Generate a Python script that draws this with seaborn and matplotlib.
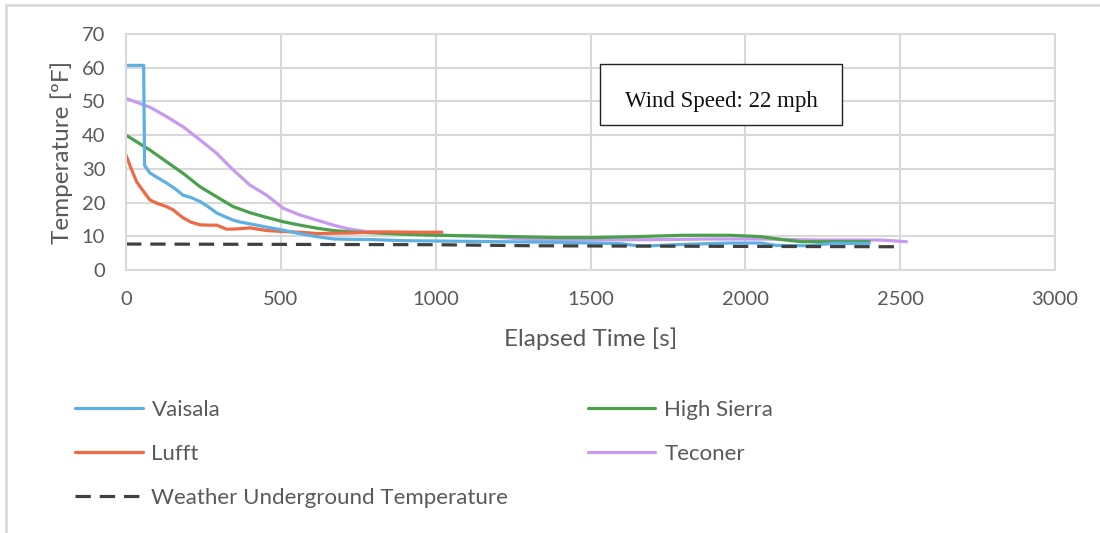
import numpy as np
import pandas as pd
import matplotlib
matplotlib.use("Agg")
import matplotlib.pyplot as plt
import seaborn as sns
from matplotlib.patches import Rectangle

# ---- data ----
vaisala_t = [0, 57, 60, 77, 100, 131, 160, 184, 210, 239, 265, 293, 320, 346, 370, 400, 450, 508,
             560, 616, 670, 723, 800, 900, 1000, 1200, 1400, 1600, 1650, 1700, 1800, 1950, 2050,
             2100, 2200, 2280, 2400]
vaisala_v = [60.7, 60.7, 31.0, 28.8, 27.5, 25.8, 24.0, 22.2, 21.5, 20.3, 18.8, 16.9, 15.8, 14.8,
             14.2, 13.7, 12.8, 11.8, 10.8, 9.9, 9.2, 9.1, 9.0, 8.7, 8.6, 8.4, 8.2, 7.8, 7.2, 7.2,
             7.6, 8.0, 8.0, 7.3, 7.2, 7.9, 7.9]

lufft_t = [0, 15, 34, 55, 77, 100, 131, 153, 170, 184, 210, 239, 265, 293, 325, 360, 400, 454,
           508, 562, 620, 670, 740, 780, 850, 930, 1020]
lufft_v = [34.1, 30.5, 26.2, 23.5, 20.8, 19.8, 18.8, 17.8, 16.5, 15.5, 14.2, 13.4, 13.3, 13.3,
           12.1, 12.2, 12.5, 11.7, 11.4, 11.2, 10.8, 10.9, 11.0, 11.2, 11.3, 11.2, 11.2]

sierra_t = [0, 77, 131, 184, 239, 293, 346, 400, 454, 508, 562, 616, 670, 723, 800, 900, 1000,
            1200, 1400, 1500, 1650, 1800, 1950, 2050, 2120, 2180, 2400]
sierra_v = [40.0, 35.6, 32.1, 28.7, 24.7, 21.7, 18.8, 17.0, 15.6, 14.3, 13.3, 12.4, 11.7, 11.3,
            11.0, 10.6, 10.3, 10.0, 9.6, 9.6, 9.9, 10.3, 10.3, 9.9, 9.0, 8.4, 8.4]

teconer_t = [0, 77, 131, 184, 239, 293, 346, 400, 454, 508, 562, 616, 670, 723, 777, 885, 993,
             1100, 1208, 1300, 1430, 1700, 1900, 2050, 2230, 2435, 2520]
teconer_v = [50.9, 48.3, 45.5, 42.5, 38.6, 34.6, 29.7, 25.2, 22.2, 18.3, 16.3, 14.8, 13.3, 12.1,
             11.4, 10.9, 10.4, 10.1, 9.7, 9.1, 8.9, 9.0, 9.2, 9.2, 8.9, 8.9, 8.4]

wu_t = [0, 500, 1000, 1300, 1600, 2000, 2480]
wu_v = [7.7, 7.6, 7.5, 7.2, 7.1, 7.0, 6.9]

series_names = ["Vaisala", "Lufft", "High Sierra", "Teconer", "Weather Underground Temperature"]
x_ticks = [0, 500, 1000, 1500, 2000, 2500, 3000]
y_ticks = [0, 10, 20, 30, 40, 50, 60, 70]
x_label = "Elapsed Time [s]"
y_label = "Temperature [ºF]"
note_text = "Wind Speed: 22 mph"

colors = {
    "Vaisala": "#5fb0e2",
    "Lufft": "#ee6a45",
    "High Sierra": "#4ba14b",
    "Teconer": "#c79af0",
    "Weather Underground Temperature": "#404040",
}

sns.set_theme(style="white")
plt.rcParams["font.family"] = ["Lato", "DejaVu Sans"]

fig = plt.figure(figsize=(11, 5.33), dpi=100)
ax = fig.add_axes([126 / 1100, 1 - 270 / 533, (1055 - 126) / 1100, (270 - 34) / 533])

data = {
    "Vaisala": (vaisala_t, vaisala_v),
    "Lufft": (lufft_t, lufft_v),
    "High Sierra": (sierra_t, sierra_v),
    "Teconer": (teconer_t, teconer_v),
    "Weather Underground Temperature": (wu_t, wu_v),
}

handles = {}
for name in ["Teconer", "High Sierra", "Lufft", "Vaisala", "Weather Underground Temperature"]:
    t, v = data[name]
    df = pd.DataFrame({"t": t, "v": v})
    sns.lineplot(data=df, x="t", y="v", ax=ax, color=colors[name], linewidth=2.3,
                 estimator=None, sort=False, label=name)
    line = ax.lines[-1]
    if name == "Weather Underground Temperature":
        line.set_dashes((4.8, 2.8))
    handles[name] = line

ax.set_xlim(0, 3000)
ax.set_ylim(0, 70)
ax.set_xticks(x_ticks)
ax.set_yticks(y_ticks)
ax.grid(True, color="#d9d9d9", linewidth=1.5)
ax.set_axisbelow(True)
for s in ax.spines.values():
    s.set_color("#d9d9d9")
    s.set_linewidth(1.5)
ax.tick_params(axis="both", length=0, labelsize=14.5, labelcolor="#595959")
ax.tick_params(axis="x", pad=15)
ax.tick_params(axis="y", pad=15)
ax.set_xlabel(x_label, fontsize=17.5, color="#595959", labelpad=14)
ax.set_ylabel(y_label, fontsize=17.5, color="#595959", labelpad=6)

# note box
ax.add_patch(Rectangle((0.510, 0.614), 0.2605, 0.259, transform=ax.transAxes,
                       facecolor="white", edgecolor="#222222", linewidth=1.0, zorder=5))
ax.text(0.6405, 0.715, note_text, transform=ax.transAxes, ha="center", va="center",
        fontsize=16.5, family=["Liberation Serif", "DejaVu Serif"], color="#111111", zorder=6)

if ax.legend_:
    ax.legend_.remove()
order = ["Vaisala", "Lufft", "Weather Underground Temperature", "High Sierra", "Teconer"]
leg = fig.legend([handles[n] for n in order], order, loc="upper left",
                 bbox_to_anchor=(0.068, 1 - 400 / 533), ncol=2, frameon=False,
                 fontsize=16, handlelength=3.05, labelspacing=1.08, columnspacing=3.57,
                 handletextpad=0.4, borderaxespad=0, borderpad=0)
for t in leg.get_texts():
    t.set_color("#595959")

# outer frame
fig.add_artist(Rectangle((6 / 1100, -0.1), 1.2, 1 - 5 / 533 + 0.1, transform=fig.transFigure,
                         fill=False, edgecolor="#d9d9d9", linewidth=2))

fig.savefig("out.png", dpi=100)
